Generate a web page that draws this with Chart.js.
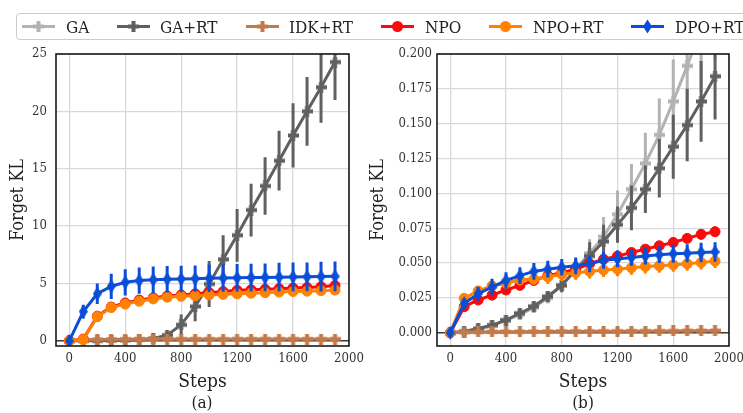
<!DOCTYPE html>
<html>
<head>
<meta charset="utf-8">
<script src="https://cdn.jsdelivr.net/npm/chart.js@4.4.0/dist/chart.umd.min.js"></script>
<style>
  body { margin: 0; background: #fff; }
  #wrap { position: relative; width: 743px; height: 413px; overflow: hidden; font-family: "DejaVu Serif Condensed", "DejaVu Serif", serif; color: #222; }
  canvas { position: absolute; top: 0; }
  #chartA { left: 0; }
  #chartB { left: 360px; }
  #legend { position: absolute; left: 16px; top: 13px; width: 740px; height: 27px; border: 1px solid #cccccc; border-radius: 4px; background: #fff; box-sizing: border-box; z-index: 2; }
  .handle { position: absolute; top: 0; }
  .txt { position: absolute; top: 1px; font-size: 17px; line-height: 24px; white-space: nowrap; }
  .cap { position: absolute; top: 392px; font-size: 17px; line-height: 20px; transform: translateX(-50%); }
</style>
</head>
<body>
<div id="wrap">
  <canvas id="chartA" width="372" height="413"></canvas>
  <canvas id="chartB" width="383" height="413"></canvas>
  <div id="legend"></div>
  <div class="cap" style="left:202px">(a)</div>
  <div class="cap" style="left:583px">(b)</div>
</div>
<script>
const steps = [0, 100, 200, 300, 400, 500, 600, 700, 800, 900, 1000, 1100, 1200, 1300, 1400, 1500, 1600, 1700, 1800, 1900];
const xTicks = [0, 400, 800, 1200, 1600, 2000];
const yTicksA = [0, 5, 10, 15, 20, 25];
const yTicksB = [0, 0.025, 0.05, 0.075, 0.1, 0.125, 0.15, 0.175, 0.2];
const yTickLabelsB = ["0.000", "0.025", "0.050", "0.075", "0.100", "0.125", "0.150", "0.175", "0.200"];
const labels = ["GA", "GA+RT", "IDK+RT", "NPO", "NPO+RT", "DPO+RT"];
const colors = ["#b3b3b3", "#606060", "#c27a4b", "#fa0a0a", "#ff8205", "#0a4ed8"];

// panel (a)
const gaRtA = [0, 0, 0, 0.02, 0.05, 0.1, 0.2, 0.5, 1.4, 3.0, 4.95, 7.1, 9.2, 11.4, 13.5, 15.7, 17.9, 20.0, 22.1, 24.3];
const gaRtErrA = [0, 0.05, 0.05, 0.05, 0.1, 0.1, 0.15, 0.3, 0.9, 1.3, 2.0, 2.1, 2.3, 2.3, 2.5, 2.6, 2.8, 3.0, 3.1, 3.3];
const idkA = [0, 0.1, 0.12, 0.13, 0.14, 0.15, 0.15, 0.15, 0.15, 0.15, 0.15, 0.15, 0.15, 0.15, 0.16, 0.16, 0.16, 0.16, 0.16, 0.16];
const idkErrA = [0, 0.05, 0.05, 0.05, 0.05, 0.05, 0.05, 0.05, 0.05, 0.05, 0.05, 0.05, 0.05, 0.05, 0.05, 0.05, 0.05, 0.05, 0.05, 0.05];
const npoA = [0, 0.15, 2.15, 2.95, 3.3, 3.55, 3.75, 3.9, 4.0, 4.1, 4.2, 4.3, 4.4, 4.45, 4.5, 4.55, 4.6, 4.65, 4.72, 4.82];
const npoErrA = [0, 0.1, 0.25, 0.25, 0.25, 0.25, 0.25, 0.25, 0.25, 0.25, 0.25, 0.25, 0.25, 0.25, 0.25, 0.25, 0.25, 0.25, 0.25, 0.25];
const npoRtA = [0, 0.1, 2.1, 2.9, 3.2, 3.45, 3.65, 3.8, 3.88, 3.93, 4.0, 4.05, 4.1, 4.15, 4.2, 4.25, 4.3, 4.33, 4.37, 4.42];
const npoRtErrA = [0, 0.1, 0.2, 0.2, 0.2, 0.2, 0.2, 0.2, 0.2, 0.2, 0.2, 0.2, 0.2, 0.2, 0.2, 0.2, 0.2, 0.2, 0.2, 0.2];
const dpoA = [0, 2.55, 4.1, 4.75, 5.1, 5.25, 5.32, 5.37, 5.39, 5.42, 5.45, 5.47, 5.49, 5.51, 5.53, 5.55, 5.57, 5.58, 5.6, 5.62];
const dpoErrA = [0, 0.6, 0.9, 1.1, 1.15, 1.15, 1.15, 1.15, 1.15, 1.15, 1.2, 1.2, 1.2, 1.2, 1.2, 1.25, 1.25, 1.25, 1.3, 1.3];

// panel (b)
const gaB = [0, 0.0005, 0.002, 0.005, 0.009, 0.013, 0.018, 0.025, 0.034, 0.046, 0.057, 0.069, 0.085, 0.103, 0.1215, 0.142, 0.166, 0.1915, 0.218, 0.246];
const gaErrB = [0, 0.001, 0.001, 0.002, 0.002, 0.003, 0.003, 0.004, 0.005, 0.007, 0.01, 0.014, 0.017, 0.018, 0.022, 0.026, 0.03, 0.04, 0.045, 0.05];
const gaRtB = [0, 0.001, 0.003, 0.0055, 0.009, 0.014, 0.019, 0.026, 0.034, 0.045, 0.055, 0.0655, 0.0775, 0.0896, 0.103, 0.118, 0.1335, 0.149, 0.166, 0.184];
const gaRtErrB = [0, 0.001, 0.001, 0.002, 0.002, 0.003, 0.003, 0.004, 0.005, 0.006, 0.01, 0.012, 0.013, 0.016, 0.017, 0.021, 0.023, 0.026, 0.029, 0.031];
const idkB = [0, 0.0005, 0.0006, 0.0007, 0.0008, 0.0008, 0.0009, 0.0009, 0.001, 0.001, 0.001, 0.0011, 0.0011, 0.0012, 0.0012, 0.0013, 0.0013, 0.0014, 0.0014, 0.0015];
const idkErrB = [0, 0.001, 0.001, 0.001, 0.001, 0.001, 0.001, 0.001, 0.001, 0.001, 0.0012, 0.0012, 0.0012, 0.0012, 0.0013, 0.0013, 0.0014, 0.0014, 0.0015, 0.0015];
const npoB = [0, 0.0187, 0.0235, 0.027, 0.0307, 0.034, 0.0375, 0.041, 0.043, 0.0456, 0.0495, 0.0528, 0.055, 0.0576, 0.06, 0.0624, 0.0648, 0.0677, 0.0706, 0.0725];
const npoErrB = [0, 0.002, 0.002, 0.002, 0.002, 0.002, 0.002, 0.002, 0.002, 0.002, 0.0025, 0.0025, 0.0025, 0.003, 0.003, 0.003, 0.003, 0.003, 0.0035, 0.0035];
const npoRtB = [0, 0.0247, 0.03, 0.0336, 0.0355, 0.038, 0.0385, 0.04, 0.042, 0.043, 0.044, 0.045, 0.0456, 0.0466, 0.0475, 0.048, 0.0487, 0.0495, 0.0504, 0.0514];
const npoRtErrB = [0, 0.002, 0.003, 0.003, 0.004, 0.004, 0.004, 0.005, 0.005, 0.005, 0.005, 0.005, 0.005, 0.005, 0.005, 0.005, 0.005, 0.005, 0.005, 0.005];
const dpoB = [0, 0.021, 0.028, 0.0327, 0.0375, 0.041, 0.044, 0.0456, 0.047, 0.048, 0.0495, 0.052, 0.053, 0.054, 0.055, 0.056, 0.0567, 0.057, 0.0576, 0.058];
const dpoErrB = [0, 0.004, 0.005, 0.006, 0.006, 0.006, 0.006, 0.006, 0.006, 0.006, 0.006, 0.006, 0.006, 0.006, 0.006, 0.006, 0.0065, 0.0065, 0.007, 0.007];

const FONT = '"DejaVu Serif Condensed", "DejaVu Serif", serif';
Chart.defaults.font.family = FONT;
Chart.defaults.color = "#333";

// marker images (filled plus, thin diamond)
function plusMarker(color) {
  const c = document.createElement("canvas");
  c.width = 11; c.height = 11;
  const g = c.getContext("2d");
  g.fillStyle = color;
  g.fillRect(0, 3.5, 11, 4);
  g.fillRect(3.5, 0, 4, 11);
  return c;
}
function diamondMarker(color) {
  const c = document.createElement("canvas");
  c.width = 9; c.height = 14;
  const g = c.getContext("2d");
  g.fillStyle = color;
  g.beginPath();
  g.moveTo(4.5, 0); g.lineTo(9, 7); g.lineTo(4.5, 14); g.lineTo(0, 7);
  g.closePath(); g.fill();
  return c;
}
const markers = [
  plusMarker(colors[0]), plusMarker(colors[1]), plusMarker(colors[2]),
  "circle", "circle", diamondMarker(colors[5])
];

function series(idx, vals, errs) {
  return {
    label: labels[idx],
    data: steps.map((s, i) => ({ x: s, y: vals[i] })),
    errors: errs,
    borderColor: colors[idx],
    backgroundColor: colors[idx],
    borderWidth: 3,
    pointStyle: markers[idx],
    pointRadius: 5,
    pointBorderWidth: 1,
    order: 10 - idx,
  };
}

const errorBars = {
  id: "errorBars",
  beforeDatasetDraw(chart, args) {
    const ds = chart.data.datasets[args.index];
    if (!ds.errors) return;
    const y = chart.scales.y;
    const area = chart.chartArea;
    const ctx = chart.ctx;
    ctx.save();
    ctx.beginPath();
    ctx.rect(area.left, area.top, area.width, area.height);
    ctx.clip();
    ctx.strokeStyle = ds.borderColor;
    ctx.lineWidth = 3;
    ctx.beginPath();
    args.meta.data.forEach((pt, i) => {
      const v = ds.data[i].y, e = ds.errors[i];
      if (!e) return;
      ctx.moveTo(pt.x, y.getPixelForValue(v - e));
      ctx.lineTo(pt.x, y.getPixelForValue(v + e));
    });
    ctx.stroke();
    ctx.restore();
  },
  afterDraw(chart) {
    const a = chart.chartArea;
    const ctx = chart.ctx;
    ctx.save();
    ctx.strokeStyle = "#1a1a1a";
    ctx.lineWidth = 1.6;
    ctx.strokeRect(a.left, a.top, a.width, a.height);
    ctx.restore();
  }
};

function makeChart(id, datasets, yMin, yMax, yTicks, yLabel, axisWidth, rightPad, tickPad) {
  return new Chart(document.getElementById(id), {
    type: "line",
    data: { datasets: datasets },
    plugins: [errorBars],
    options: {
      responsive: false,
      animation: false,
      devicePixelRatio: 1,
      layout: { padding: { top: 54, right: rightPad, left: 0, bottom: 0 } },
      plugins: { legend: { display: false }, tooltip: { enabled: false } },
      scales: {
        x: {
          type: "linear",
          min: -95,
          max: 2000,
          afterBuildTicks: (s) => { s.ticks = xTicks.map((v) => ({ value: v })); },
          afterFit: (s) => { s.height = 67; s.paddingLeft = 0; s.paddingRight = 0; },
          ticks: { font: { size: 13 }, padding: 5, maxRotation: 0, callback: (v) => String(v) },
          grid: { color: "#d9d9d9", lineWidth: 1.3, drawTicks: false },
          border: { display: false },
          title: { display: true, text: "Steps", font: { size: 19 }, color: "#222", padding: { top: 0, bottom: 20 } },
        },
        y: {
          min: yMin,
          max: yMax,
          afterBuildTicks: (s) => { s.ticks = yTicks.map((v) => ({ value: v })); },
          afterFit: (s) => { s.width = axisWidth; s.paddingTop = 0; s.paddingBottom = 0; },
          ticks: { font: { size: 13 }, padding: tickPad, callback: (v, i) => yLabel(v, i) },
          grid: {
            color: (c) => (c.tick && c.tick.value === 0 ? "#3a3a3a" : "#d9d9d9"),
            lineWidth: (c) => (c.tick && c.tick.value === 0 ? 1.6 : 1.3),
            drawTicks: false,
          },
          border: { display: false },
          title: { display: true, text: "Forget KL", font: { size: 18 }, color: "#222", padding: { top: 8, bottom: 0 } },
        },
      },
    },
  });
}

makeChart("chartA", [
  series(1, gaRtA, gaRtErrA),
  series(2, idkA, idkErrA),
  series(3, npoA, npoErrA),
  series(4, npoRtA, npoRtErrA),
  series(5, dpoA, dpoErrA),
], -0.45, 25, yTicksA, (v) => String(v), 56, 23, 9);

makeChart("chartB", [
  series(0, gaB, gaErrB),
  series(1, gaRtB, gaRtErrB),
  series(2, idkB, idkErrB),
  series(3, npoB, npoErrB),
  series(4, npoRtB, npoRtErrB),
  series(5, dpoB, dpoErrB),
], -0.0095, 0.2, yTicksB, (v, i) => yTickLabelsB[i], 77, 14, 5);

// legend built from the same labels / colours
const handleX = [5, 100, 229, 364, 472, 614];
const textX = [49, 143, 272, 408, 516, 658];
const legend = document.getElementById("legend");
labels.forEach((lab, i) => {
  const c = colors[i];
  let mk;
  if (i < 3) mk = `<rect x="11" y="7.5" width="11" height="4" fill="${c}"/><rect x="14.5" y="4" width="4" height="11" fill="${c}"/>`;
  else if (i < 5) mk = `<circle cx="16.5" cy="9.5" r="5.5" fill="${c}"/>`;
  else mk = `<polygon points="16.5,2.5 21,9.5 16.5,16.5 12,9.5" fill="${c}"/>`;
  legend.insertAdjacentHTML("beforeend",
    `<svg class="handle" style="left:${handleX[i]}px;top:3px" width="33" height="19"><line x1="0" y1="9.5" x2="33" y2="9.5" stroke="${c}" stroke-width="3"/>${mk}</svg>` +
    `<div class="txt" style="left:${textX[i]}px">${lab}</div>`);
});
</script>
</body>
</html>
